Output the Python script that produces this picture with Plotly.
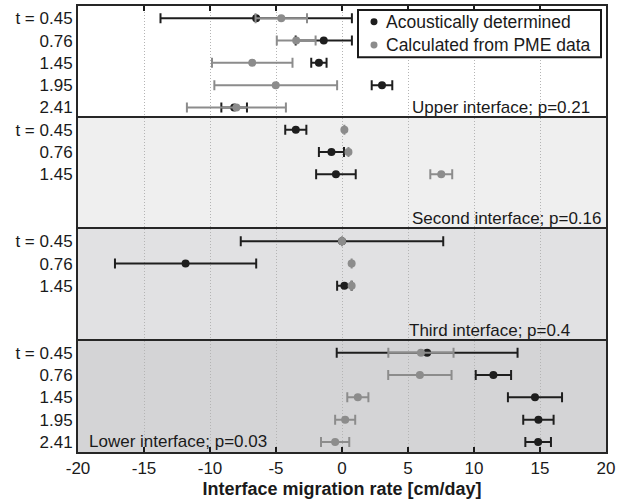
import plotly.graph_objects as go
from plotly.subplots import make_subplots

# ---- data ----
t_upper = ["t = 0.45", "0.76", "1.45", "1.95", "2.41"]
upper_ac = [-6.5, -1.38, -1.75, 3.03, -8.17]
upper_ac_err = [7.25, 2.13, 0.58, 0.78, 0.97]
upper_pme = [-4.6, -3.47, -6.8, -5.02, -8.0]
upper_pme_err = [1.95, 1.47, 3.05, 4.65, 3.75]

t_second = ["t = 0.45", "0.76", "1.45"]
second_ac = [-3.5, -0.8, -0.46]
second_ac_err = [0.8, 0.95, 1.5]
second_pme = [0.18, 0.49, 7.52]
second_pme_err = [0.0, 0.0, 0.83]

t_third = ["t = 0.45", "0.76", "1.45"]
third_ac = [0.0, -11.85, 0.18]
third_ac_err = [7.67, 5.35, 0.55]
third_pme = [0.0, 0.73, 0.73]
third_pme_err = [0.0, 0.0, 0.0]

t_lower = ["t = 0.45", "0.76", "1.45", "1.95", "2.41"]
lower_ac = [6.45, 11.47, 14.62, 14.88, 14.86]
lower_ac_err = [6.85, 1.34, 2.05, 1.15, 0.97]
lower_pme = [5.98, 5.9, 1.2, 0.24, -0.52]
lower_pme_err = [2.47, 2.4, 0.8, 0.76, 1.07]

series_names = ["Acoustically determined", "Calculated from PME data"]
panel_labels = ["Upper interface; p=0.21", "Second interface; p=0.16",
                "Third interface; p=0.4", "Lower interface; p=0.03"]
x_ticks = [-20, -15, -10, -5, 0, 5, 10, 15, 20]

panels = [
    (t_upper, upper_ac, upper_ac_err, upper_pme, upper_pme_err),
    (t_second, second_ac, second_ac_err, second_pme, second_pme_err),
    (t_third, third_ac, third_ac_err, third_pme, third_pme_err),
    (t_lower, lower_ac, lower_ac_err, lower_pme, lower_pme_err),
]
bg_colors = ["#ffffff", "#efefef", "#e1e1e3", "#d4d4d6"]
label_pos = [(18.95, "right"), (19.85, "right"), (17.45, "right"), (-19.35, "left")]

BLACK = "#1e1e1e"
GREY = "#8c8c8c"
LINE = "#262626"
TXT = "#1a1a1a"
FONT = "Liberation Sans, Arial, sans-serif"

fig = make_subplots(rows=4, cols=1, shared_xaxes=False, vertical_spacing=0)

for i, (tl, ac, ace, pm, pme) in enumerate(panels):
    r = i + 1
    yv = list(range(1, len(tl) + 1))
    fig.add_trace(go.Scatter(
        x=ac, y=yv, mode="markers", name=series_names[0],
        marker=dict(color=BLACK, size=8),
        error_x=dict(type="data", array=ace, color=BLACK, thickness=2, width=5),
        showlegend=False), row=r, col=1)
    fig.add_trace(go.Scatter(
        x=pm, y=yv, mode="markers", name=series_names[1],
        marker=dict(color=GREY, size=8),
        error_x=dict(type="data", array=pme, color=GREY, thickness=2, width=5),
        showlegend=False), row=r, col=1)

    xa = "x" if r == 1 else f"x{r}"
    ya = "y" if r == 1 else f"y{r}"
    fig.add_shape(type="rect", xref=f"{xa} domain", yref=f"{ya} domain",
                  x0=0, x1=1, y0=0, y1=1, fillcolor=bg_colors[i],
                  line=dict(width=0), layer="below")
    xpos, anchor = label_pos[i]
    fig.add_annotation(x=xpos, y=len(t_upper), xref=xa, yref=ya, text=panel_labels[i],
                       showarrow=False, xanchor=anchor, yanchor="middle",
                       font=dict(size=17, color=TXT, family=FONT))

    fig.update_yaxes(row=r, col=1, range=[5.45, 0.45], tickvals=yv, ticktext=tl,
                     showgrid=False, zeroline=False, showline=True, mirror=True,
                     linecolor=LINE, linewidth=2, ticks="",
                     tickfont=dict(size=17, color=TXT, family=FONT))
    xkw = dict(range=[-20, 20], tickvals=x_ticks, ticktext=[str(v) for v in x_ticks],
               showgrid=True, gridcolor="#b4b4b4", griddash="1px,2px", gridwidth=1,
               zeroline=False, showline=True, linecolor=LINE,
               linewidth=2, tickfont=dict(size=17, color=TXT, family=FONT))
    if r == 1:
        xkw.update(side="top", mirror=False, ticks="inside", ticklen=5,
                   tickcolor=TXT, tickwidth=2, showticklabels=False)
    elif r == 4:
        xkw.update(side="bottom", mirror=True, ticks="inside", ticklen=5,
                   tickcolor=TXT, tickwidth=2, showticklabels=True,
                   title=dict(text="<b>Interface migration rate [cm/day]</b>",
                              font=dict(size=18, color=TXT, family=FONT),
                              standoff=5))
    else:
        xkw.update(side="top", mirror=False, ticks="", showticklabels=False)
    fig.update_xaxes(row=r, col=1, **xkw)

# ---- legend box (drawn manually to match the compact original) ----
PL, PR, PT, PB = 78, 606, 6, 458
W, H = PR - PL, PB - PT
def px(xp):
    return (xp - PL) / W
def py(yp):
    return (PB - yp) / H

fig.add_shape(type="rect", xref="paper", yref="paper",
              x0=px(358), x1=px(601), y0=py(58), y1=py(10),
              fillcolor="white", line=dict(color=TXT, width=2), layer="above")
for k, (name, col, yc) in enumerate([(series_names[0], BLACK, 22),
                                     (series_names[1], GREY, 45.5)]):
    fig.add_shape(type="circle", xref="paper", yref="paper",
                  x0=px(374 - 3.5), x1=px(374 + 3.5), y0=py(yc + 3.5), y1=py(yc - 3.5),
                  fillcolor=col, line=dict(width=0), layer="above")
    fig.add_annotation(x=px(384), y=py(yc), xref="paper", yref="paper", text=name,
                       showarrow=False, xanchor="left", yanchor="middle",
                       font=dict(size=17.5, color=TXT, family=FONT))

fig.update_layout(
    width=629, height=502,
    margin=dict(l=PL, r=629 - PR, t=PT, b=502 - PB),
    paper_bgcolor="white", plot_bgcolor="rgba(0,0,0,0)",
    font=dict(family=FONT, size=17, color=TXT),
    showlegend=False,
)

fig.write_html("out.html")
